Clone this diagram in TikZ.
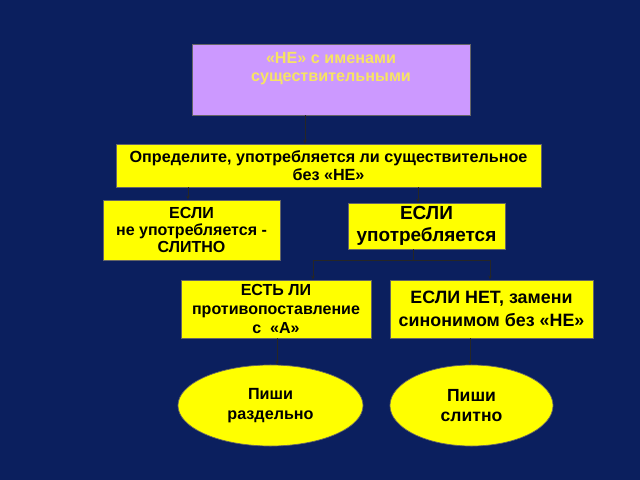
\documentclass[tikz,border=0pt]{standalone}
\usepackage{fontspec}
\setmainfont{Liberation Sans}
\usetikzlibrary{shapes.geometric,arrows.meta}
\definecolor{navy}{HTML}{0B1F5E}
\definecolor{lilac}{HTML}{CC99FF}
\definecolor{lemon}{HTML}{FFFF00}
\definecolor{goldtext}{HTML}{F7E463}
\begin{document}
\begin{tikzpicture}[x=0.025cm, y=-0.025cm, >={Stealth[length=3pt,width=2.5pt]}, font=\bfseries,
    box/.style={draw=black!60, line width=0.5pt, fill=lemon, text=black, align=center, inner sep=0pt},
    oval/.style={ellipse, draw=black!60, line width=0.5pt, fill=lemon, text=black, align=center, inner sep=0pt},
    link/.style={draw=black!85, line width=0.6pt}]
    \fill[navy] (0,0) rectangle (640,480);
    \useasboundingbox (0,0) rectangle (640,480);
    % boxes
    \node[box, fill=lilac, minimum width=6.95cm, minimum height=1.775cm] (topic) at (331,79.5) {};
    \node[text=goldtext, align=center, font=\bfseries\fontsize{11.5}{12.5}\selectfont] (topictext) at (331,68.5) {«НЕ» с именами\\существительными};
    \node[box, minimum width=10.625cm, minimum height=1.075cm, font=\bfseries\fontsize{11.5}{12.8}\selectfont] (ask) at (328.5,165.5)
        {Определите, употребляется ли существительное\\без «НЕ»};
    \node[box, minimum width=4.425cm, minimum height=1.5cm, font=\bfseries\fontsize{11.4}{12.2}\selectfont] (notused) at (191.5,230)
        {ЕСЛИ\\не употребляется -\\СЛИТНО};
    \node[box, minimum width=3.925cm, minimum height=1.15cm, font=\bfseries\fontsize{13.5}{15.6}\selectfont] (used) at (426.5,226)
        {ЕСЛИ\\употребляется};
    \node[box, minimum width=4.75cm, minimum height=1.45cm, font=\bfseries\fontsize{11.4}{13.2}\selectfont] (contrast) at (276,309)
        {ЕСТЬ ЛИ\\противопоставление\\с~~«А»};
    \node[box, minimum width=5.075cm, minimum height=1.45cm, font=\bfseries\fontsize{12.7}{16.4}\selectfont] (synonym) at (491.5,309)
        {ЕСЛИ НЕТ, замени\\синонимом без «НЕ»};
    \node[oval, minimum width=4.625cm, minimum height=2.025cm, font=\bfseries\fontsize{11.5}{14.2}\selectfont] (apart) at (270.5,405.5)
        {Пиши\\раздельно};
    \node[oval, minimum width=4.075cm, minimum height=2.025cm, font=\bfseries\fontsize{12.5}{14.5}\selectfont] (joint) at (471.5,405.5)
        {Пиши\\слитно};
    % connectors
    \coordinate (fork) at (413,260);
    \draw[link, ->] (topic.south -| 305,0) -- (ask.north -| 305,0);
    \draw[link, ->] (ask.south -| 188,0) -- (notused.north -| 188,0);
    \draw[link, ->] (ask.south -| 418,0) -- (used.north -| 418,0);
    \draw[link] (used.south -| fork) -- (fork);
    \draw[link] (313,260) -- (490,260);
    \draw[link, ->] (313,260) -- (contrast.north -| 313,0);
    \draw[link, ->] (490,260) -- (synonym.north -| 490,0);
    \draw[link, ->] (contrast.south -| 277,0) -- (apart.north -| 277,0);
    \draw[link, ->] (synonym.south -| 470,0) -- (joint.north -| 470,0);
\end{tikzpicture}
\end{document}
